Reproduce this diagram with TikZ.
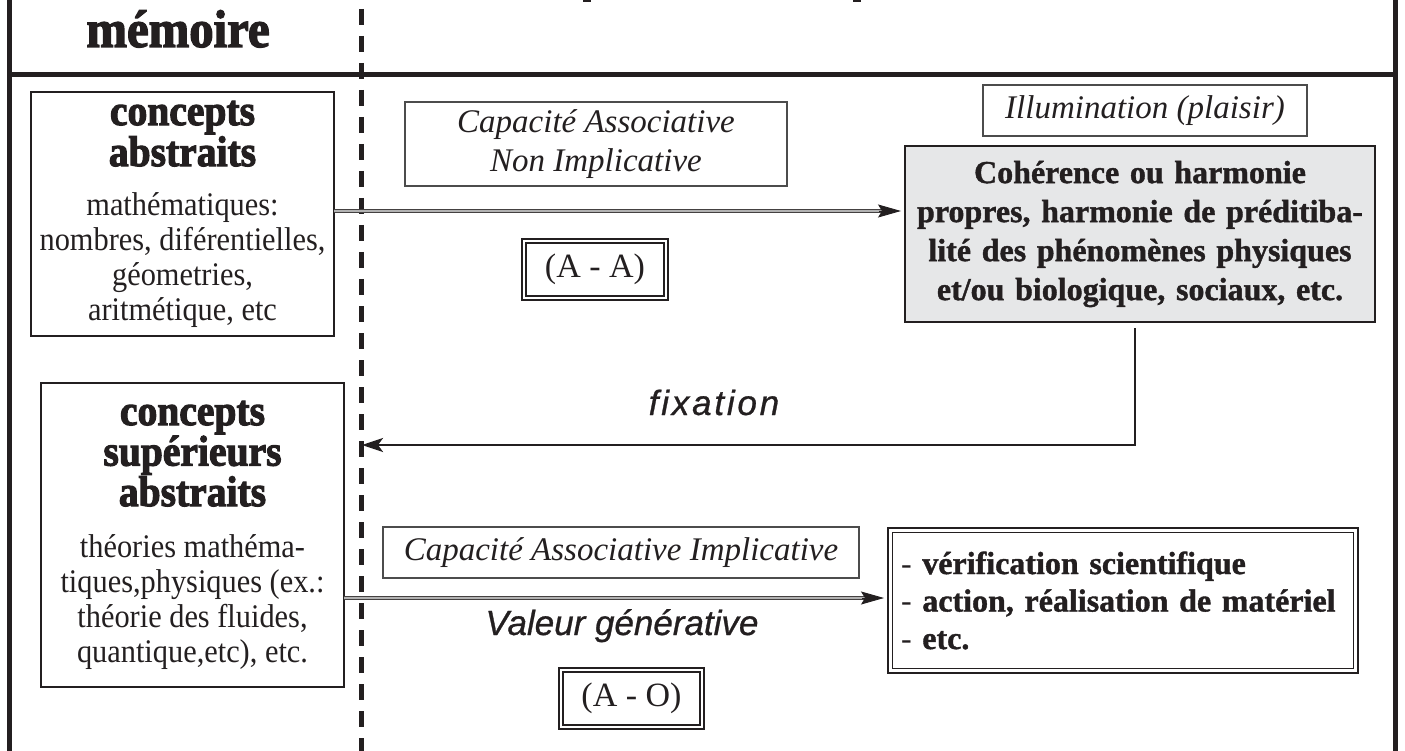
\documentclass[tikz,border=0pt]{standalone}
\usepackage{fontspec}
\setmainfont{Liberation Serif}[BoldFeatures={FakeBold=1.2}]
\newfontfamily\heavyfont[FakeBold=2.5,FakeStretch=0.92]{Liberation Serif Bold}
\newfontfamily\bodyserif[FakeStretch=0.92]{Liberation Serif}
\newfontfamily\sansitfont[FakeBold=0.8]{Liberation Sans Italic}
\usetikzlibrary{arrows.meta,calc}
\definecolor{ink}{HTML}{231F20}
\definecolor{panel}{HTML}{E6E7E8}
\newcommand\conceptfont{\heavyfont\fontsize{43pt}{41pt}\selectfont}
\newcommand\bodyfont{\bodyserif\fontsize{33pt}{35pt}\selectfont}
\setlength\parindent{0pt}

\begin{document}
\begin{tikzpicture}[x=1pt,y=-1pt,
  every node/.style={inner sep=0pt, outer sep=0pt, text=ink},
  frameline/.style={line width=5pt, draw=ink},
  divider/.style={line width=5pt, draw=ink, dash pattern=on 16pt off 11pt, dash phase=18pt},
  conceptbox/.style={draw=ink, line width=2.5pt, align=flush center},
  notebox/.style={draw=black!70, line width=1.5pt, align=center,
    font=\fontsize{33pt}{39pt}\selectfont\itshape},
  panelbox/.style={draw=ink, line width=1.5pt, fill=panel, align=center,
    font=\fontsize{32pt}{39pt}\selectfont\bfseries},
  codebox/.style={draw=ink, line width=2.6pt, font=\fontsize{34pt}{40pt}\selectfont},
  innerframe/.style={draw=ink, line width=1.1pt},
  dbl/.style={line width=1.2pt, draw=ink!85, double=black!30, double distance=2pt},
  tiphead/.style={-{Stealth[length=23pt,width=13pt,inset=4pt]}, line width=0.8pt, draw=ink, fill=ink},
  fixline/.style={line width=2.6pt, draw=ink, -{Stealth[length=21pt,width=14pt,inset=5pt]}},
  flowlabel/.style={font=\fontsize{35pt}{40pt}\selectfont\sansitfont, anchor=base}]

\useasboundingbox (0,0) rectangle (1405,751);

% outer frame, header rule and the dashed memory divider
\draw[frameline] (9,0) -- (9,751);
\draw[frameline] (1395,0) -- (1395,751);
\draw[frameline] (9,75) -- (1395,75);
\fill[ink] (583,0) rectangle (591,2.5);
\fill[ink] (853,0) rectangle (861,2.5);
\coordinate (dtop) at (361,0);
\coordinate (dbot) at (361,751);
\draw[divider] (dtop) -- (dbot);

\node[font=\heavyfont\fontsize{53pt}{54pt}\selectfont, anchor=base] (title) at (178,47) {mémoire};

% memory boxes
\node[conceptbox, minimum width=303pt, minimum height=244pt, text width=300pt] (boxA) at (182.5,214)
  {{\conceptfont concepts\\abstraits\par}\vspace{14pt}%
   {\bodyfont mathématiques:\\nombres, diférentielles,\\géometries,\\aritmétique, etc\par}};

\node[conceptbox, minimum width=303pt, minimum height=304pt, text width=300pt] (boxB) at (192.5,535)
  {{\heavyfont\fontsize{43pt}{40.5pt}\selectfont concepts\\supérieurs\\abstraits\par}\vspace{16pt}%
   {\bodyfont théories mathéma-\\tiques,physiques (ex.:\\théorie des fluides,\\quantique,etc), etc.\par}};

% upper row
\node[notebox, minimum width=382pt, minimum height=84pt] (noteA) at (596,144)
  {Capacité Associative\\Non Implicative};
\node[notebox, minimum width=324pt, minimum height=51pt] (illum) at (1145,110.5)
  {Illumination (plaisir)};
\node[panelbox, minimum width=470pt, minimum height=176pt, text width=466pt] (grey) at (1140,234)
  {Cohérence ou harmonie\\propres, harmonie de préditiba-\\lité des phénomènes physiques\\et/ou biologique, sociaux, etc.\par};
\node[codebox, minimum width=146pt, minimum height=61pt] (aa) at (595,269.5) {(A - A)};
\draw[innerframe] ([shift={(4pt,-4pt)}]aa.north west) rectangle ([shift={(-4pt,4pt)}]aa.south east);

% lower row
\node[notebox, minimum width=476pt, minimum height=51pt] (noteB) at (621,552.5)
  {Capacité Associative Implicative};
\node[draw=ink, line width=2.6pt, minimum width=470pt, minimum height=145pt, text width=444pt, align=left,
  font=\fontsize{32pt}{37.5pt}\selectfont] (result) at (1123,600.5)
  {- \textbf{vérification scientifique}\\- \textbf{action, réalisation de matériel}\\- \textbf{etc.}\par};
\draw[innerframe] ([shift={(4.5pt,-4.5pt)}]result.north west) rectangle ([shift={(-4.5pt,4.5pt)}]result.south east);
\node[codebox, minimum width=145pt, minimum height=61pt] (ao) at (631.5,698.5) {(A - O)};
\draw[innerframe] ([shift={(4pt,-4pt)}]ao.north west) rectangle ([shift={(-4pt,4pt)}]ao.south east);

\node[flowlabel] (fixlabel) at (714,415) {\addfontfeatures{LetterSpace=8}fixation};
\node[flowlabel] (genlabel) at (622,635) {Valeur générative};

% connectors
\coordinate (r1) at (0,211);
\coordinate (r2) at (0,598);
\coordinate (fixx) at (1135,0);
\coordinate (fixend) at (362,445);

\draw[dbl] (boxA.east |- r1) -- ($(grey.west |- r1)+(-20,0)$);
\draw[tiphead] ($(grey.west |- r1)+(-26,0)$) -- ($(grey.west |- r1)+(-4,0)$);

\draw[dbl] (boxB.east |- r2) -- ($(result.west |- r2)+(-20,0)$);
\draw[tiphead] ($(result.west |- r2)+(-26,0)$) -- ($(result.west |- r2)+(-4,0)$);

\draw[fixline] ($(grey.south -| fixx)+(0,6)$) |- (fixend);
\end{tikzpicture}
\end{document}
